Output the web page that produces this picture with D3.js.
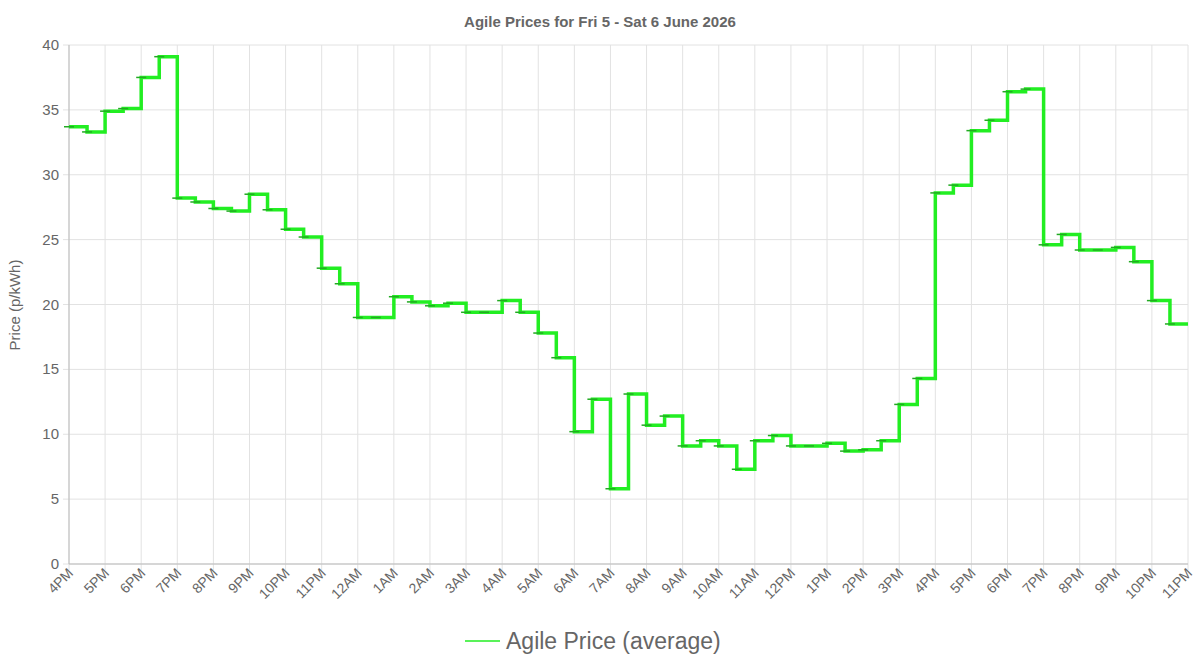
<!DOCTYPE html>
<html><head><meta charset="utf-8">
<script src="https://cdn.jsdelivr.net/npm/d3@7"></script>
<style>body{margin:0;background:#fff}text{font-family:"Liberation Sans",Arial,sans-serif}</style>
</head><body><svg id="c" width="1200" height="667"></svg>
<script>
const title = "Agile Prices for Fri 5 - Sat 6 June 2026";
const startTime = "2026-06-05T16:00:00";
const prices = [33.7,33.3,34.9,35.1,37.5,39.1,28.2,27.9,27.4,27.2,28.5,27.3,25.8,25.2,22.8,21.6,
19.0,19.0,20.6,20.2,19.9,20.1,19.4,19.4,20.3,19.4,17.8,15.9,10.2,12.7,5.8,13.1,10.7,11.4,9.1,9.5,
9.1,7.3,9.5,9.9,9.1,9.1,9.3,8.7,8.8,9.5,12.3,14.3,28.6,29.2,33.4,34.2,36.4,36.6,24.6,25.4,24.2,24.2,
24.4,23.3,20.3,18.5];
const tickLabels = ["4PM","5PM","6PM","7PM","8PM","9PM","10PM","11PM","12AM","1AM","2AM","3AM","4AM","5AM","6AM","7AM","8AM","9AM","10AM","11AM","12PM","1PM","2PM","3PM","4PM","5PM","6PM","7PM","8PM","9PM","10PM","11PM"];
const yTicks = [0,5,10,15,20,25,30,35,40];

const svg = d3.select("#c");
const L=69,R=1188,T=45,B=564;
const t0 = new Date(startTime);
const times = prices.map((p,i)=>new Date(t0.getTime()+i*1800000));
const tEnd = new Date(t0.getTime()+31*3600000);
const x = d3.scaleTime().domain([t0,tEnd]).range([L,R]);
const y = d3.scaleLinear().domain([0,40]).range([B,T]);
const hourTicks = tickLabels.map((l,i)=>new Date(t0.getTime()+i*3600000));

const g = svg.append("g");
g.selectAll(".vg").data(hourTicks).join("line").attr("x1",d=>x(d)).attr("x2",d=>x(d)).attr("y1",T).attr("y2",B+6).attr("stroke","#e2e2e2");
g.selectAll(".hg").data(yTicks).join("line").attr("x1",L-6).attr("x2",R).attr("y1",d=>y(d)).attr("y2",d=>y(d)).attr("stroke","#e2e2e2");
g.append("line").attr("x1",L).attr("x2",L).attr("y1",T).attr("y2",B).attr("stroke","#bbb");
g.append("line").attr("x1",L).attr("x2",R).attr("y1",B).attr("y2",B).attr("stroke","#bbb");

g.selectAll(".yl").data(yTicks).join("text").attr("x",L-10).attr("y",d=>y(d)+5).attr("text-anchor","end")
 .attr("font-size",15).attr("fill","#666").text(d=>d);
g.selectAll(".xl").data(hourTicks).join("text")
 .attr("transform",(d,i)=>`translate(${x(d)+5},${B+10}) rotate(-45)`).attr("text-anchor","end")
 .attr("font-size",14).attr("fill","#666").text((d,i)=>tickLabels[i]);

svg.append("text").attr("x",600).attr("y",27).attr("text-anchor","middle").attr("font-size",15).attr("font-weight","bold").attr("fill","#666").text(title);
svg.append("text").attr("transform","translate(20,305) rotate(-90)").attr("text-anchor","middle").attr("font-size",15).attr("fill","#666").text("Price (p/kWh)");

const pts = times.map((t,i)=>[t,prices[i]]);
pts.push([tEnd,prices[prices.length-1]]);
const line = d3.line().x(d=>x(d[0])).y(d=>y(d[1])).curve(d3.curveStepAfter);
svg.append("path").attr("d",line(pts)).attr("fill","none").attr("stroke","#22ee22").attr("stroke-width",3.5);
svg.selectAll(".pt").data(pts.slice(0,-1)).join("line").attr("x1",d=>x(d[0])-5).attr("x2",d=>x(d[0])+5)
 .attr("y1",d=>y(d[1])).attr("y2",d=>y(d[1])).attr("stroke","#22aa22").attr("stroke-width",1.5);

svg.append("line").attr("x1",465).attr("x2",500).attr("y1",641).attr("y2",641).attr("stroke","#22ee22").attr("stroke-width",1.5);
svg.append("text").attr("x",506).attr("y",649).attr("font-size",23).attr("fill","#666").text("Agile Price (average)");
</script></body></html>
